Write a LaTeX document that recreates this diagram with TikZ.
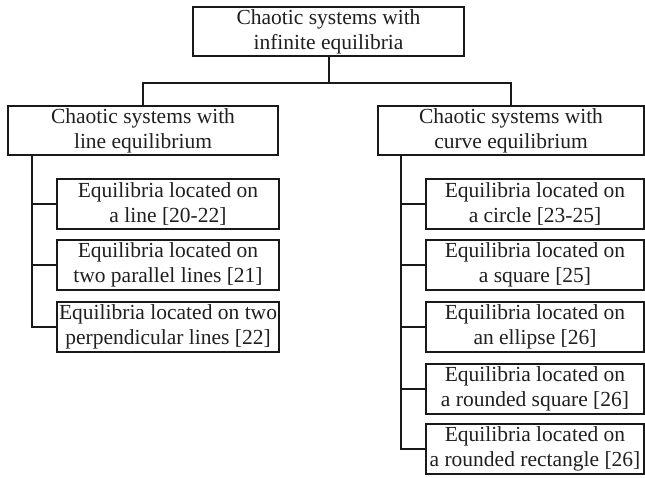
\documentclass[tikz,border=0pt]{standalone}
\usepackage{fontspec}
\setmainfont{Liberation Serif}
\begin{document}
\begin{tikzpicture}[x=1pt,y=-1pt,
  box/.style={draw=black!90, line width=2pt, inner sep=0pt, align=center,
    text=black!88, font=\fontsize{21.5}{25}\selectfont},
  link/.style={draw=black!90, line width=2pt}]
\useasboundingbox (0,0) rectangle (645,478);
\node[box, minimum width=271pt, minimum height=49pt] (top) at (328.5,31.5) {Chaotic systems with\\infinite equilibria};
\node[box, minimum width=270pt, minimum height=49pt] (lp) at (143,130.5) {Chaotic systems with\\line equilibrium};
\node[box, minimum width=266pt, minimum height=49pt] (rp) at (511,130.5) {Chaotic systems with\\curve equilibrium};
\node[box, minimum width=222pt, minimum height=50pt] (l1) at (168,204) {Equilibria located on\\a line [20-22]};
\node[box, minimum width=222pt, minimum height=50pt] (l2) at (168,265) {Equilibria located on\\two parallel lines [21]};
\node[box, minimum width=222pt, minimum height=50pt] (l3) at (168,327) {Equilibria located on two\\perpendicular lines [22]};
\node[box, minimum width=218pt, minimum height=50pt] (r1) at (535,204) {Equilibria located on\\a circle [23-25]};
\node[box, minimum width=218pt, minimum height=50pt] (r2) at (535,265) {Equilibria located on\\a square [25]};
\node[box, minimum width=218pt, minimum height=50pt] (r3) at (535,327) {Equilibria located on\\an ellipse [26]};
\node[box, minimum width=218pt, minimum height=50pt] (r4) at (535,389) {Equilibria located on\\a rounded square [26]};
\node[box, minimum width=218pt, minimum height=50pt] (r5) at (535,449) {Equilibria located on\\a rounded rectangle [26]};
\draw[link] (top.south) -- ++(0,26) -| (lp.north);
\draw[link] (top.south) -- ++(0,26) -| (rp.north);
\draw[link] (lp.south west) ++(25,0) coordinate (ls) |- (l3.west);
\draw[link] (l1.west) -- (l1.west -| ls);
\draw[link] (l2.west) -- (l2.west -| ls);
\draw[link] (rp.south west) ++(24,0) coordinate (rs) |- (r5.west);
\draw[link] (r1.west) -- (r1.west -| rs);
\draw[link] (r2.west) -- (r2.west -| rs);
\draw[link] (r3.west) -- (r3.west -| rs);
\draw[link] (r4.west) -- (r4.west -| rs);
\end{tikzpicture}
\end{document}
